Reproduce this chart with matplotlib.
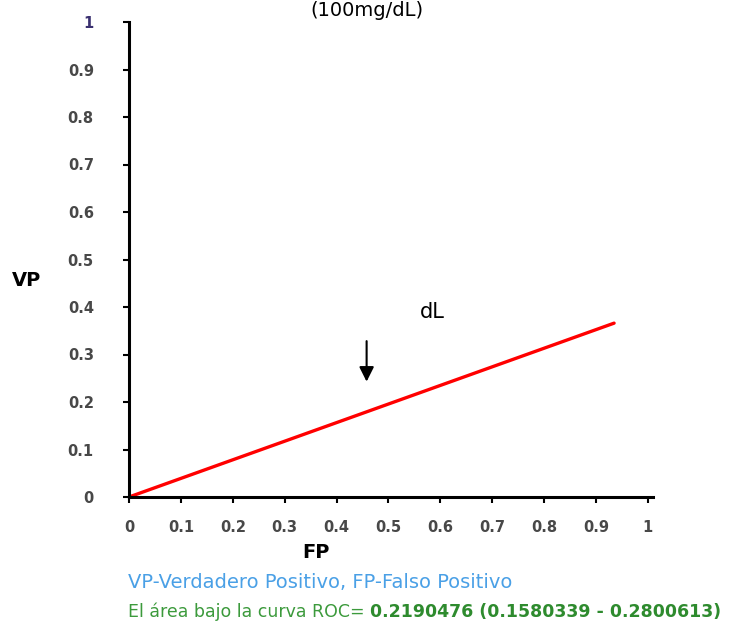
import matplotlib
matplotlib.use("Agg")
import matplotlib.pyplot as plt

# ROC curve points
fp = [0.0, 0.935]
vp = [0.0, 0.366]

ticks = [0, 0.1, 0.2, 0.3, 0.4, 0.5, 0.6, 0.7, 0.8, 0.9, 1]
tick_labels = ["0", "0.1", "0.2", "0.3", "0.4", "0.5", "0.6", "0.7", "0.8", "0.9", "1"]

arrow_x = 0.458
arrow_from = 0.334
arrow_to = 0.237

fig = plt.figure(figsize=(7.37, 6.28), dpi=100)
ax = fig.add_axes([129 / 737, 1 - 497 / 628, 524 / 737, 475 / 628])

ax.plot(fp, vp, color="#ff0000", lw=2.4, solid_capstyle="round")

ax.set_xlim(0, 1.01)
ax.set_ylim(0, 1)
ax.set_xticks(ticks)
ax.set_xticklabels(tick_labels)
ax.set_yticks(ticks)
ax.set_yticklabels(tick_labels)

for s in ["top", "right"]:
    ax.spines[s].set_visible(False)
for s in ["left", "bottom"]:
    ax.spines[s].set_linewidth(2.2)
    ax.spines[s].set_color("black")

# lengths and pads are in points (1 pt = 1.39 px here)
ax.tick_params(axis="both", direction="out", length=4.3, width=1.5, color="black",
               labelcolor="#484848")
ax.tick_params(axis="x", pad=12)
ax.tick_params(axis="y", pad=21)
for lab in ax.get_xticklabels() + ax.get_yticklabels():
    lab.set_fontfamily("DejaVu Sans")
    lab.set_fontweight("bold")
    lab.set_fontsize(10.5)
ax.get_yticklabels()[-1].set_color("#3a3070")

# arrow and partial annotation text
ax.annotate("", xy=(arrow_x, arrow_to), xytext=(arrow_x, arrow_from),
            arrowprops=dict(arrowstyle="-|>", color="black", lw=1.5, mutation_scale=22))
ax.text(0.56, 0.389, "dL", fontsize=15, family="DejaVu Sans", va="center", ha="left")

# title (mostly cut off at the top in the original)
fig.text(367 / 737, 0.999, "(100mg/dL)", fontsize=14, family="DejaVu Sans",
         ha="center", va="top")

# axis labels
fig.text(12 / 737, 1 - 280 / 628, "VP", fontsize=14, fontweight="bold",
         family="DejaVu Sans", va="center", ha="left")
fig.text(316 / 737, 1 - 553 / 628, "FP", fontsize=14, fontweight="bold",
         family="DejaVu Sans", va="center", ha="center")

# notes below the plot
fig.text(128 / 737, 1 - 582 / 628, "VP-Verdadero Positivo, FP-Falso Positivo",
         fontsize=14, color="#4aa0e6", family="DejaVu Sans", va="center")
t1 = fig.text(128 / 737, 1 - 612 / 628, "El área bajo la curva ROC= ",
              fontsize=12.5, color="#3c9a3c", family="DejaVu Sans", va="center")
ax.annotate("0.2190476 (0.1580339 - 0.2800613)", xy=(1, 0), xycoords=t1,
            va="bottom", ha="left", fontsize=12.5, fontweight="bold",
            color="#2e8b2e", family="DejaVu Sans", annotation_clip=False)

fig.savefig("out.png", dpi=100)
